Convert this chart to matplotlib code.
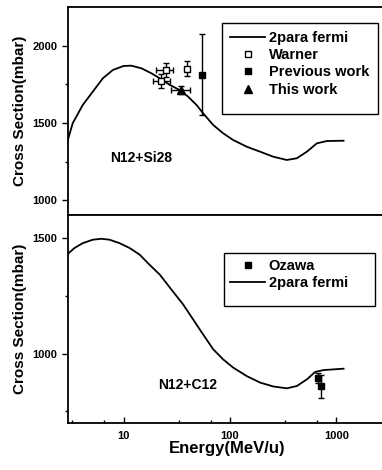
import matplotlib
matplotlib.use("Agg")
import matplotlib.pyplot as plt
from matplotlib.ticker import FixedLocator, FixedFormatter, NullFormatter
from matplotlib.lines import Line2D
from matplotlib.patches import Rectangle

plt.rcParams['font.family'] = ['Liberation Sans', 'DejaVu Sans']
plt.rcParams['font.weight'] = 'bold'

# N12 + Si28 theory curve (2 parameter fermi)
si_energy = [2.98, 3.32, 4.13, 5.13, 6.38, 7.93, 10, 11.8, 14.7, 18.2, 21.9, 27.2,
             33.7, 40.4, 48.5, 56.0, 69.6, 86.5, 107, 144, 192, 256, 343, 426,
             530, 658, 817, 1172]
si_sigma = [1385, 1498, 1617, 1703, 1790, 1844, 1870, 1872, 1855, 1823, 1790, 1747,
            1714, 1671, 1617, 1563, 1487, 1433, 1390, 1346, 1314, 1281, 1260, 1271,
            1314, 1368, 1383, 1385]

# Warner data
warner_e = [22.7, 25.3, 39.1]
warner_s = [1775, 1844, 1853]
warner_ds = [46, 48, 50]
warner_elo = [3.8, 5.0, 0]
warner_ehi = [4.5, 3.9, 0]

# previous work
prev_e = [55.2]
prev_s = [1814]
prev_ds = [262]

# this work
this_e = [34.5]
this_s = [1714]
this_ds = [28]
this_elo = [6.4]
this_ehi = [7.4]

# N12 + C12 theory curve
c_energy = [2.98, 3.45, 4.13, 5.13, 6.16, 7.38, 9.17, 11.4, 14.2, 16.9, 21.9, 28.2,
            36.3, 45.1, 56.0, 69.6, 86.5, 107, 144, 192, 256, 343, 426, 530, 634,
            759, 1172]
c_sigma = [1431, 1457, 1478, 1493, 1497, 1493, 1478, 1457, 1428, 1392, 1342, 1277,
           1213, 1148, 1083, 1019, 975, 940, 903, 875, 858, 850, 860, 889, 921,
           929, 935]

# Ozawa data
ozawa_e = [667, 721]
ozawa_s = [894, 858]
ozawa_ds = [22, 48]

fig = plt.figure(figsize=(3.82, 4.70), dpi=100)
ax1 = fig.add_axes([0.178, 0.5426, 0.835, 0.4426])
ax2 = fig.add_axes([0.178, 0.100, 0.835, 0.4426])

minor_x = [3.3, 6.6, 33, 66, 330, 660]

for ax in (ax1, ax2):
    ax.set_xscale('log')
    ax.set_xlim(3, 3000)
    ax.xaxis.set_major_locator(FixedLocator([10, 100, 1000]))
    ax.xaxis.set_major_formatter(FixedFormatter(['10', '100', '1000']))
    ax.xaxis.set_minor_locator(FixedLocator(minor_x))
    ax.xaxis.set_minor_formatter(NullFormatter())
    ax.spines['right'].set_visible(False)
    for s in ax.spines.values():
        s.set_linewidth(1.3)
    ax.tick_params(axis='y', which='major', direction='out', length=4, width=1, labelsize=8)
    ax.tick_params(axis='y', which='minor', direction='out', length=2.5, width=1)
    ax.set_ylabel('Cross Section(mbar)', fontsize=11, fontweight='bold')

# top panel
ax1.plot(si_energy, si_sigma, color='black', lw=1.3)
ax1.errorbar(warner_e, warner_s, yerr=warner_ds, xerr=[warner_elo, warner_ehi],
             fmt='s', mfc='white', mec='black', color='black', ms=5, elinewidth=1,
             capsize=2.5)
ax1.errorbar(prev_e, prev_s, yerr=prev_ds, fmt='s', color='black', ms=5,
             elinewidth=1, capsize=2.5)
ax1.errorbar(this_e, this_s, yerr=this_ds, xerr=[this_elo, this_ehi], fmt='^',
             color='black', ms=6, elinewidth=1, capsize=2.5)
ax1.set_ylim(903, 2253)
ax1.yaxis.set_major_locator(FixedLocator([1000, 1500, 2000]))
ax1.yaxis.set_minor_locator(FixedLocator([1250, 1750]))
ax1.tick_params(axis='x', which='both', direction='out', labelbottom=False,
                length=4, width=1)
ax1.tick_params(axis='x', which='minor', length=2.5)
ax1.text(0.229, 0.274, 'N12+Si28', transform=ax1.transAxes, fontsize=10,
         fontweight='bold', ha='center', va='center')

h1 = [Line2D([], [], color='black', lw=1.3),
      Line2D([], [], ls='none', marker='s', mfc='white', mec='black', ms=5),
      Line2D([], [], ls='none', marker='s', color='black', ms=5),
      Line2D([], [], ls='none', marker='^', color='black', ms=6)]
l1 = ['2para fermi', 'Warner', 'Previous work', 'This work']
ax1.add_patch(Rectangle((0.483, 0.486), 0.489, 0.437, transform=ax1.transAxes,
                        fill=False, edgecolor='black', lw=1.0, zorder=5))
ax1.legend(h1, l1, loc='upper left', bbox_to_anchor=(0.483, 0.923),
           borderaxespad=0, frameon=False, prop={'weight': 'bold', 'size': 10.5},
           handlelength=2.4, handletextpad=0.25, labelspacing=0.22, borderpad=0.55)

# bottom panel
ax2.errorbar(ozawa_e, ozawa_s, yerr=ozawa_ds, fmt='s', color='black', ms=5,
             elinewidth=1, capsize=2.5)
ax2.plot(c_energy, c_sigma, color='black', lw=1.3)
ax2.set_ylim(700, 1600)
ax2.yaxis.set_major_locator(FixedLocator([1000, 1500]))
ax2.yaxis.set_minor_locator(FixedLocator([750, 1250]))
ax2.tick_params(axis='x', which='both', direction='in', length=4, width=1,
                labelsize=8, pad=6)
ax2.tick_params(axis='x', which='minor', length=2.5)
ax2.set_xlabel('Energy(MeV/u)', fontsize=12, fontweight='bold', labelpad=0)
ax2.text(0.376, 0.183, 'N12+C12', transform=ax2.transAxes, fontsize=10,
         fontweight='bold', ha='center', va='center')

h2 = [Line2D([], [], ls='none', marker='s', color='black', ms=5),
      Line2D([], [], color='black', lw=1.3)]
l2 = ['Ozawa', '2para fermi']
ax2.add_patch(Rectangle((0.49, 0.5625), 0.472, 0.2535, transform=ax2.transAxes,
                        fill=False, edgecolor='black', lw=1.0, zorder=5))
ax2.legend(h2, l2, loc='upper left', bbox_to_anchor=(0.49, 0.816),
           borderaxespad=0, frameon=False, prop={'weight': 'bold', 'size': 10.5},
           handlelength=2.4, handletextpad=0.25, labelspacing=0.2, borderpad=0.4)

for ax in (ax1, ax2):
    for lab in ax.get_xticklabels() + ax.get_yticklabels():
        lab.set_fontweight('bold')

fig.savefig('out.png', dpi=100)
